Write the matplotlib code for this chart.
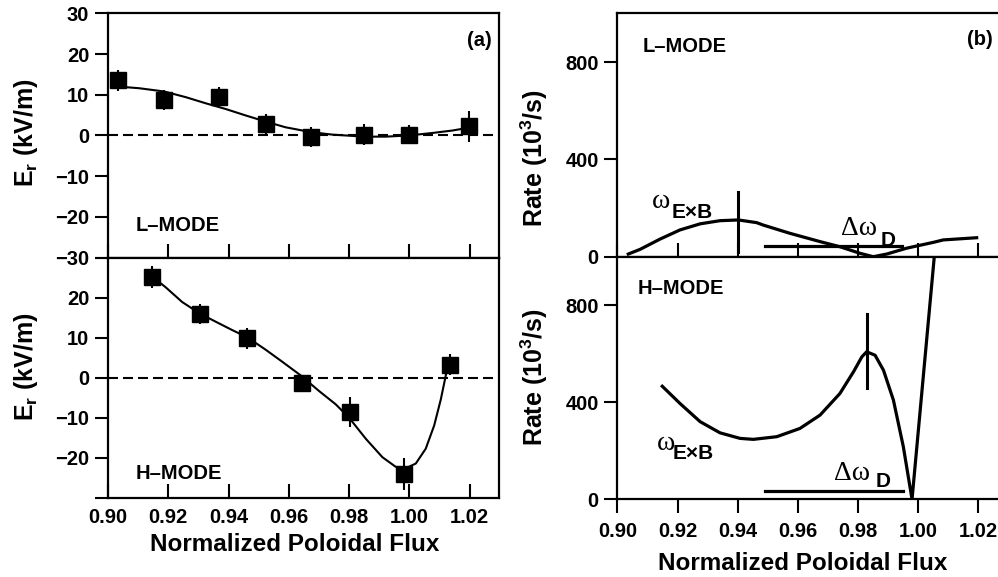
import matplotlib.pyplot as plt
from matplotlib.ticker import FixedLocator, FixedFormatter

plt.rcParams['font.family'] = ['Liberation Sans', 'DejaVu Sans']
plt.rcParams['font.weight'] = 'bold'
plt.rcParams['axes.labelweight'] = 'bold'
plt.rcParams['axes.linewidth'] = 1.6
plt.rcParams['mathtext.fontset'] = 'custom'
plt.rcParams['mathtext.rm'] = 'Liberation Sans:bold'
plt.rcParams['mathtext.it'] = 'Liberation Sans:bold'
plt.rcParams['mathtext.bf'] = 'Liberation Sans:bold'

# (a) measured E_r, L-mode
l_psi = [0.9033, 0.9186, 0.9368, 0.9524, 0.9673, 0.9850, 1.0000, 1.0197]
l_er = [13.5, 8.7, 9.4, 2.8, -0.4, 0.2, 0.2, 2.3]
l_err = [2.5, 2.5, 2.5, 2.5, 2.5, 2.5, 2.3, 3.8]
# fitted E_r, L-mode
l_fit_psi = [0.9034, 0.9103, 0.9186, 0.9258, 0.9324, 0.9390, 0.9457, 0.9523, 0.9589,
             0.9674, 0.9744, 0.9849, 0.9921, 1.0000, 1.0076, 1.0142, 1.0197]
l_fit_er = [12.0, 11.6, 10.8, 9.4, 7.9, 6.5, 4.9, 3.4, 2.0,
            0.8, 0.2, -0.3, -0.3, 0.0, 0.6, 1.2, 1.9]

# (a) measured E_r, H-mode
h_psi = [0.9147, 0.9305, 0.9462, 0.9642, 0.9802, 0.9982, 1.0133]
h_er = [25.1, 16.0, 9.9, -1.4, -8.5, -24.0, 3.3]
h_err = [2.7, 2.5, 2.6, 2.2, 3.8, 3.9, 2.7]
# fitted E_r, H-mode
h_fit_psi = [0.9142, 0.9191, 0.9246, 0.9305, 0.9357, 0.9412, 0.9462, 0.9523, 0.9578,
             0.9639, 0.9700, 0.9755, 0.9799, 0.9855, 0.9910, 0.9954, 0.9987, 1.0021,
             1.0054, 1.0082, 1.0104, 1.0120, 1.0131]
h_fit_er = [25.5, 22.6, 18.9, 16.0, 14.0, 11.9, 10.1, 7.0, 4.0,
            0.6, -3.3, -6.6, -9.9, -15.2, -19.8, -22.2, -22.6, -21.4,
            -17.7, -11.9, -5.4, 0.4, 4.5]

# (b) shearing rate, L-mode
l_rate_psi = [0.9036, 0.9075, 0.9141, 0.9208, 0.9275, 0.9341, 0.9402, 0.9463, 0.9485,
              0.9574, 0.9674, 0.9740, 0.9807, 0.9851, 0.9896, 0.9962, 1.0051, 1.0084,
              1.0195]
l_rate = [11, 30, 72, 110, 135, 148, 151, 140, 130,
          96, 62, 41, 14, 0, 11, 35, 59, 69,
          78]
l_rate_bar = (0.9402, 20, 265)
l_dwd = (0.9491, 0.9946, 43)

# (b) shearing rate, H-mode
h_rate_psi = [0.9149, 0.9208, 0.9275, 0.9341, 0.9408, 0.9452, 0.9530, 0.9607, 0.9674,
              0.9740, 0.9785, 0.9813, 0.9829, 0.9857, 0.9885, 0.9918, 0.9951, 0.9980,
              1.0054, 1.0062]
h_rate = [466, 395, 320, 274, 251, 247, 258, 292, 347,
          436, 525, 587, 608, 594, 532, 409, 217, 0,
          1000, 1060]
h_rate_bar = (0.9829, 457, 763)
h_dwd = (0.9491, 0.9949, 35)

psi_ticks = [0.90, 0.92, 0.94, 0.96, 0.98, 1.00, 1.02]
er_ticks = [-30, -20, -10, 0, 10, 20, 30]
rate_ticks = [0, 400, 800]

fig = plt.figure(figsize=(9.98, 5.77), dpi=100)
ax_lt = fig.add_axes([0.1082, 0.5537, 0.3918, 0.4232])
ax_lb = fig.add_axes([0.1082, 0.1369, 0.3918, 0.4168])
ax_rt = fig.add_axes([0.6187, 0.5551, 0.3813, 0.4218])
ax_rb = fig.add_axes([0.6187, 0.1347, 0.3813, 0.4204])


def omega_label(ax, x, y, sub_x, sub_y, greek, sub):
    # serif Greek symbol followed by a bold sans subscript
    ax.text(x, y, greek, fontsize=20, family='Liberation Serif',
            weight='normal', va='baseline', ha='left')
    ax.text(sub_x, sub_y, sub, fontsize=15, va='baseline', ha='left')


# ---- (a) radial electric field ----
for ax in (ax_lt, ax_lb):
    ax.set_xlim(0.90, 1.0297)
    ax.set_ylim(-30, 30)
    ax.axhline(0, color='black', lw=1.5, ls=(0, (4.8, 2.4)))
    ax.xaxis.set_major_locator(FixedLocator(psi_ticks))
    ax.yaxis.set_major_locator(FixedLocator(er_ticks))
    ax.tick_params(axis='x', direction='in', length=10, width=1.5, labelsize=14.5, pad=7)
    ax.tick_params(axis='y', direction='out', length=9.5, width=1.5, labelsize=14.5, pad=4)
    ax.set_ylabel(r'E$_{r}$ (kV/m)', fontsize=18)

ax_lt.plot(l_fit_psi, l_fit_er, color='black', lw=1.5)
ax_lt.errorbar(l_psi, l_er, yerr=l_err, fmt='s', color='black', ms=11,
               elinewidth=1.5, capsize=0)
ax_lt.tick_params(axis='x', labelbottom=False)
ax_lt.yaxis.set_label_coords(-0.174, 0.512)
ax_lt.text(0.9093, -22.1, 'L\u2013MODE', fontsize=14.5, va='center', ha='left')
ax_lt.text(0.982, 0.89, '(a)', fontsize=14.5, va='center', ha='right',
           transform=ax_lt.transAxes)

ax_lb.plot(h_fit_psi, h_fit_er, color='black', lw=1.5)
ax_lb.errorbar(h_psi, h_er, yerr=h_err, fmt='s', color='black', ms=11,
               elinewidth=1.5, capsize=0)
ax_lb.yaxis.set_major_formatter(FixedFormatter(['', '\u221220', '\u221210', '0', '10', '20', '']))
ax_lb.xaxis.set_major_formatter(FixedFormatter([f'{v:.2f}' for v in psi_ticks]))
ax_lb.yaxis.set_label_coords(-0.174, 0.545)
ax_lb.set_xlabel('Normalized Poloidal Flux', fontsize=17.5)
ax_lb.xaxis.set_label_coords(0.478, -0.145)
ax_lb.text(0.9093, -23.8, 'H\u2013MODE', fontsize=14.5, va='center', ha='left')

# ---- (b) shearing rate vs. diamagnetic frequency spread ----
for ax in (ax_rt, ax_rb):
    ax.set_xlim(0.90, 1.0266)
    ax.set_ylim(0, 1000)
    ax.spines['right'].set_visible(False)
    ax.xaxis.set_major_locator(FixedLocator(psi_ticks))
    ax.yaxis.set_major_locator(FixedLocator(rate_ticks))
    ax.tick_params(axis='y', direction='out', length=9.5, width=1.5, labelsize=14.5, pad=4)
    ax.set_ylabel(r'Rate (10$^{3}$/s)', fontsize=18)

ax_rt.plot(l_rate_psi, l_rate, color='black', lw=2.3)
ax_rt.plot([l_rate_bar[0]] * 2, l_rate_bar[1:], color='black', lw=2.2)
ax_rt.plot(l_dwd[:2], [l_dwd[2]] * 2, color='black', lw=2.3)
ax_rt.tick_params(axis='x', direction='in', length=10, width=1.5, labelbottom=False)
ax_rt.yaxis.set_label_coords(-0.177, 0.405)
ax_rt.text(0.9085, 865, 'L\u2013MODE', fontsize=14.5, va='center', ha='left')
ax_rt.text(1.025, 892, '(b)', fontsize=14.5, va='center', ha='right')
omega_label(ax_rt, 0.9116, 200, 0.9181, 160, '\u03c9', 'E\u00d7B')
omega_label(ax_rt, 0.9745, 89, 0.9876, 46, '\u0394\u03c9', 'D')

ax_rb.plot(h_rate_psi, h_rate, color='black', lw=2.3)
ax_rb.plot([h_rate_bar[0]] * 2, h_rate_bar[1:], color='black', lw=2.2)
ax_rb.plot(h_dwd[:2], [h_dwd[2]] * 2, color='black', lw=2.3)
ax_rb.tick_params(axis='x', direction='out', length=10, width=1.5, labelsize=14.5, pad=6)
ax_rb.xaxis.set_major_formatter(FixedFormatter([f'{v:.2f}' for v in psi_ticks]))
ax_rb.yaxis.set_label_coords(-0.177, 0.502)
ax_rb.set_xlabel('Normalized Poloidal Flux', fontsize=17.5)
ax_rb.xaxis.set_label_coords(0.4875, -0.216)
ax_rb.text(0.9068, 868, 'H\u2013MODE', fontsize=14.5, va='center', ha='left')
omega_label(ax_rb, 0.9130, 203, 0.9185, 168, '\u03c9', 'E\u00d7B')
omega_label(ax_rb, 0.9722, 79, 0.9859, 49, '\u0394\u03c9', 'D')

fig.savefig('out.png', dpi=100)
